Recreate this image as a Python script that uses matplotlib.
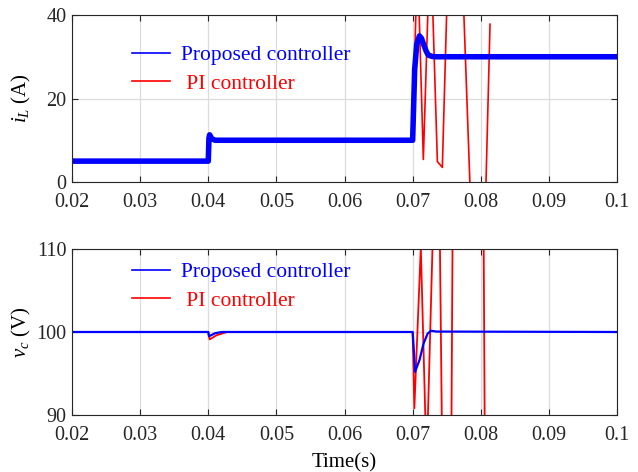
import matplotlib
matplotlib.use("Agg")
import matplotlib.pyplot as plt
from matplotlib.lines import Line2D

plt.rcParams['font.family'] = ['Liberation Serif', 'DejaVu Serif']
plt.rcParams['mathtext.fontset'] = 'custom'
plt.rcParams['mathtext.rm'] = 'Liberation Serif'
plt.rcParams['mathtext.it'] = 'Liberation Serif:italic'

# inductor current, proposed controller
t_il_prop = [0.02, 0.04, 0.0401, 0.0402, 0.0405, 0.041, 0.07, 0.0703, 0.0706,
             0.0710, 0.0713, 0.0716, 0.0720, 0.0723, 0.0728, 0.0733, 0.1]
il_prop = [5, 5, 10.5, 11.3, 10.4, 10, 10, 27, 33, 35.0, 34.4, 33.0, 31.3,
           30.4, 30.1, 30, 30]

# inductor current, PI controller (diverges after the 0.07 s step)
t_il_pi = [0.02, 0.04, 0.0402, 0.041, 0.07, 0.0707, 0.07157, 0.0726, 0.07363,
           0.07436, 0.0761, 0.0784, 0.0798, 0.08077, 0.08136]
il_pi = [5, 5, 11, 10, 10, 55, 5.4, 60, 4.9, 3.5, 105, 0, -55, 0, 37.8]

# capacitor voltage, proposed controller
t_vc_prop = [0.02, 0.04, 0.0401, 0.0404, 0.041, 0.042, 0.07, 0.0702, 0.07035,
             0.0710, 0.0716, 0.0722, 0.0727, 0.0735, 0.1]
vc_prop = [100, 100, 99.5, 99.6, 99.85, 100, 100, 97.5, 95.2, 96.6, 98.6,
           99.8, 100.15, 100.05, 100]

# capacitor voltage, PI controller
t_vc_pi = [0.02, 0.04, 0.0402, 0.0412, 0.0428, 0.07, 0.07025, 0.0712, 0.07205,
           0.0735, 0.0738, 0.0752, 0.0765, 0.0797, 0.0813]
vc_pi = [100, 100, 99.1, 99.6, 100, 100, 90.8, 110.2, 84, 128, 126, 20, 200,
         220, -20]

xticks = [0.02, 0.03, 0.04, 0.05, 0.06, 0.07, 0.08, 0.09, 0.1]
xticklabels = ['0.02', '0.03', '0.04', '0.05', '0.06', '0.07', '0.08', '0.09', '0.1']

blue = '#0000ff'
red = '#ff0000'
axcol = '#262626'

fig = plt.figure(figsize=(6.38, 4.72), dpi=100)
ax1 = fig.add_axes([0.1129, 0.6144, 0.8542, 0.3538])
ax2 = fig.add_axes([0.1129, 0.1208, 0.8542, 0.3517])


def style(ax, yticks):
    ax.set_xlim(0.02, 0.1)
    ax.set_xticks(xticks)
    ax.set_xticklabels(xticklabels)
    ax.set_yticks(yticks)
    ax.set_ylim(yticks[0], yticks[-1])
    ax.grid(True, color='#dcdcdc', lw=0.9)
    ax.set_axisbelow(True)
    ax.tick_params(direction='in', length=4, width=0.8, top=True, right=True,
                   labelsize=14.5, colors=axcol)
    ax.tick_params(axis='x', pad=8)
    ax.tick_params(axis='y', pad=4)
    for s in ax.spines.values():
        s.set_color(axcol)
        s.set_linewidth(0.8)


ax1.plot(t_il_pi, il_pi, color=red, lw=1.2)
ax1.plot(t_il_prop, il_prop, color=blue, lw=4.0, solid_joinstyle='round')
style(ax1, [0, 20, 40])
ax1.set_ylabel(r'$i_L$ (A)', fontsize=15)
ax1.yaxis.set_label_coords(-0.071, 0.5)

ax2.plot(t_vc_pi, vc_pi, color=red, lw=1.3)
ax2.plot(t_vc_prop, vc_prop, color=blue, lw=1.6)
style(ax2, [90, 100, 110])
ax2.set_ylabel(r'$v_c$ (V)', fontsize=15)
ax2.yaxis.set_label_coords(-0.071, 0.5)
ax2.set_xlabel('Time(s)', fontsize=15, labelpad=6)

handles = [Line2D([], [], color=blue, lw=1.2), Line2D([], [], color=red, lw=1.2)]
labels = ['Proposed controller', ' PI controller']
for ax, anchor in ((ax1, (0.11, 0.818)), (ax2, (0.11, 0.919))):
    ax.legend(handles, labels, loc='upper left', bbox_to_anchor=anchor,
              frameon=False, fontsize=15.5, labelcolor='linecolor',
              handlelength=1.77, handletextpad=0.5, labelspacing=0.39,
              borderpad=0, borderaxespad=0)

fig.savefig('out.png', dpi=100)
